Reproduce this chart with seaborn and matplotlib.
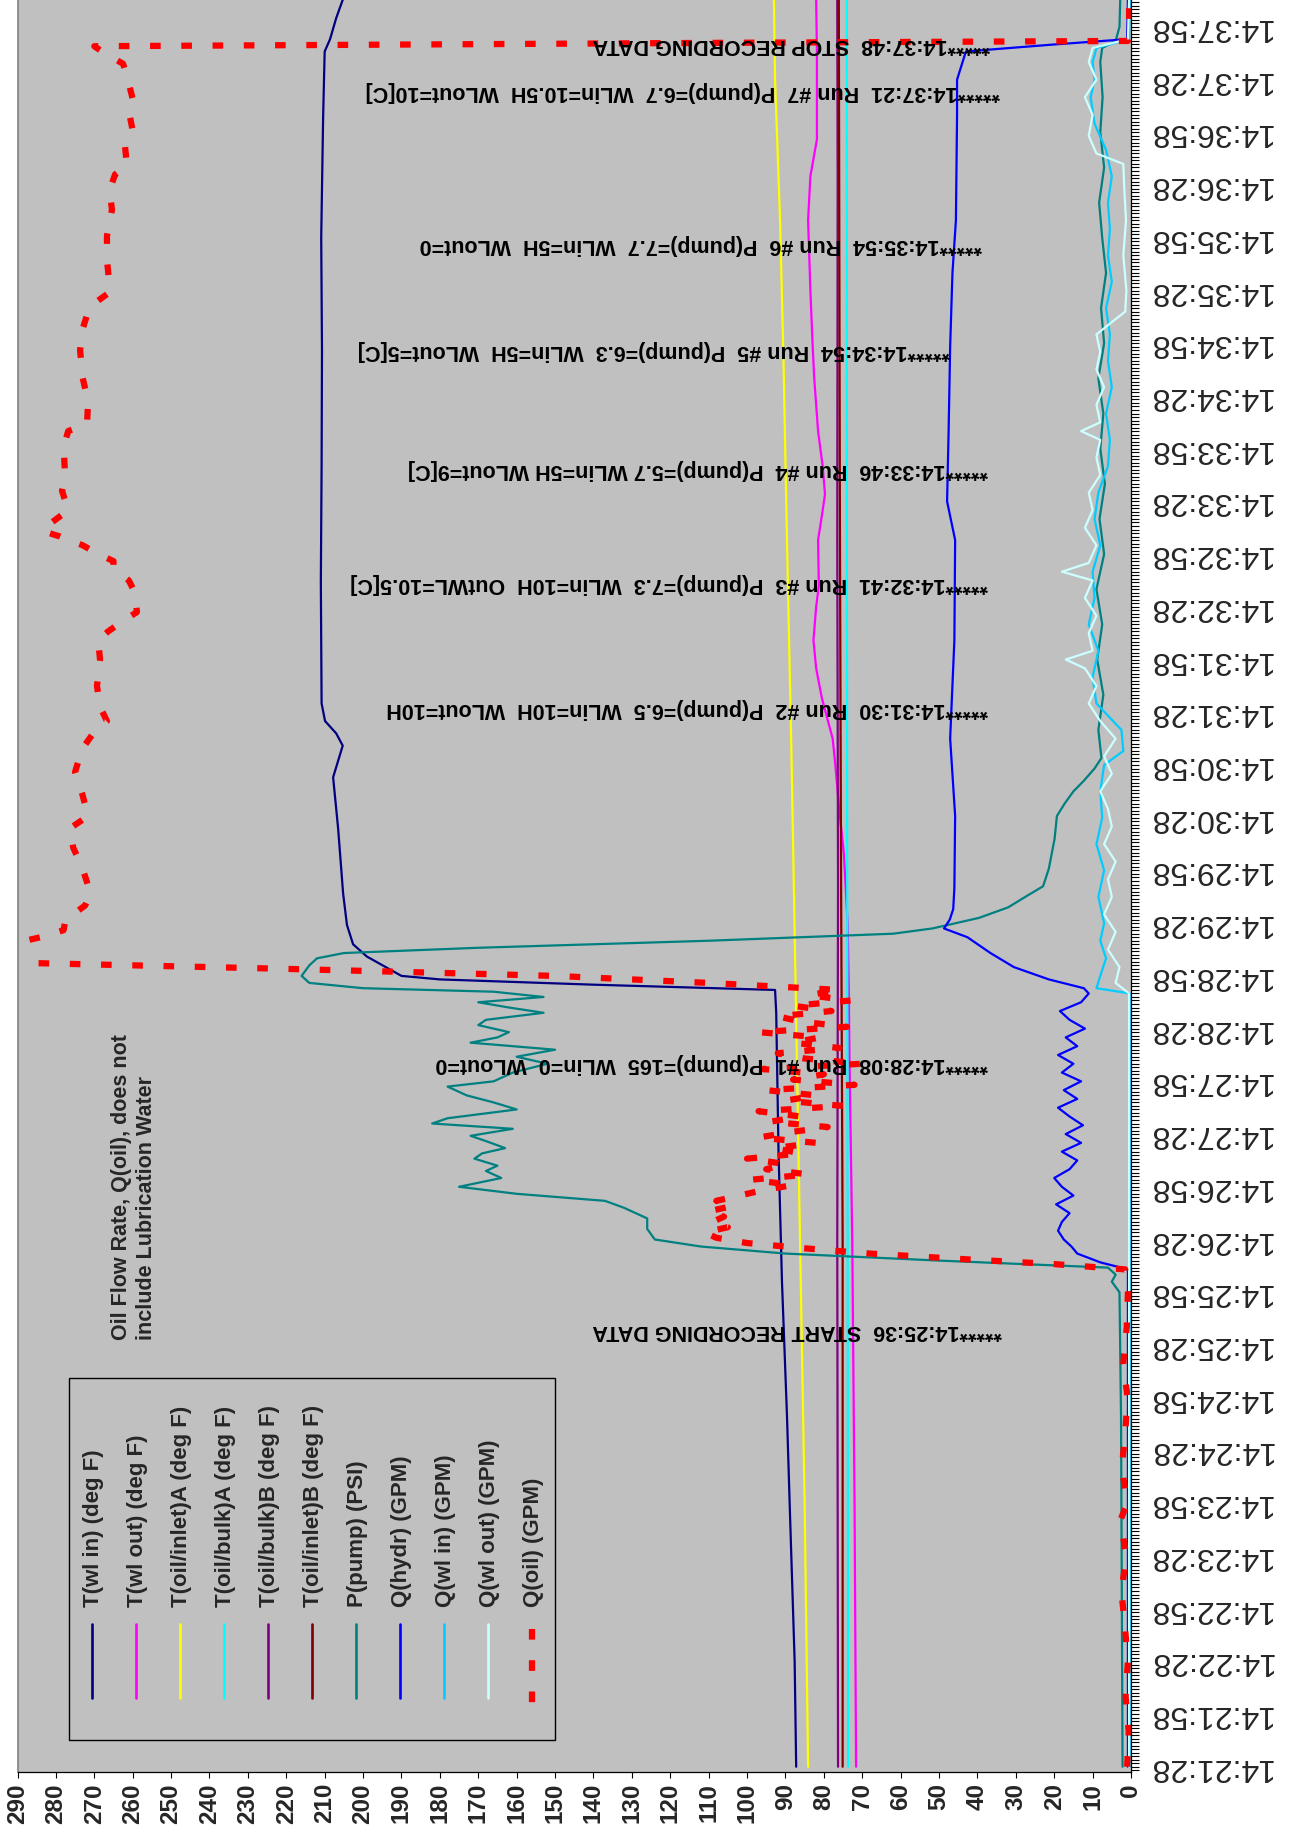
import matplotlib
matplotlib.use("Agg")
import matplotlib.pyplot as plt
from matplotlib.lines import Line2D
from matplotlib.patches import Rectangle
from matplotlib.ticker import FixedLocator, MultipleLocator
import seaborn as sns

sns.set_theme(style="white")
plt.rcParams["font.family"] = ["Liberation Sans", "DejaVu Sans"]

# ---------------- data (time in seconds after 14:21:28) ----------------
time_labels = ["14:21:28", "14:21:58", "14:22:28", "14:22:58", "14:23:28", "14:23:58",
               "14:24:28", "14:24:58", "14:25:28", "14:25:58", "14:26:28", "14:26:58",
               "14:27:28", "14:27:58", "14:28:28", "14:28:58", "14:29:28", "14:29:58",
               "14:30:28", "14:30:58", "14:31:28", "14:31:58", "14:32:28", "14:32:58",
               "14:33:28", "14:33:58", "14:34:28", "14:34:58", "14:35:28", "14:35:58",
               "14:36:28", "14:36:58", "14:37:28", "14:37:58"]
value_ticks = list(range(0, 291, 10))

twlin_t = [0, 60, 143, 200, 276, 350, 429, 442, 445, 448, 450, 461, 468, 479, 497, 534,
           563, 581, 588, 595, 605, 674, 740, 806, 870, 939, 976, 983, 995, 1006]
twlin_v = [87.2, 87.6, 88.8, 89.6, 90.9, 91.8, 92.4, 92.7, 140, 180, 190, 199, 202.6, 204.2,
           205.2, 206.5, 207.8, 205.3, 207, 209.9, 210.8, 211, 210.8, 210.7, 210.9, 210.4,
           210, 208.6, 207, 205.2]

twlout_t = [0, 150, 300, 400, 442, 480, 520, 545, 570, 585, 608, 625, 641, 660, 672, 698,
            712, 724, 740, 760, 790, 808, 840, 880, 905, 926, 976, 1006]
twlout_v = [71.6, 72, 72.6, 73.3, 73.5, 73.8, 74.8, 76, 77, 77.7, 80.5, 82, 82.7, 82, 81.3,
            81.5, 80.5, 79.7, 80.3, 81.5, 82.5, 82.9, 83.5, 84.1, 83.5, 81.8, 81.8, 82]

toilinA_t = [0, 150, 300, 400, 500, 584, 698, 800, 880, 960, 1006]
toilinA_v = [84.1, 85, 86.2, 87, 87.8, 88.5, 89.6, 90.5, 91.4, 92.7, 93]

toilbulkA_t = [0, 300, 500, 700, 900, 1006]
toilbulkA_v = [73.7, 73.8, 73.9, 74, 74, 74]

toilbulkB_t = [0, 300, 500, 700, 900, 1006]
toilbulkB_v = [76.3, 76.5, 76.3, 76.5, 76.4, 76.5]

toilinB_t = [0, 300, 500, 700, 900, 1006]
toilinB_v = [75.1, 75.1, 75.5, 75.8, 76, 76.1]

ppump_t = [0, 100, 200, 270, 276, 280, 284, 288, 292, 296, 300, 306, 312, 318, 322, 326,
           330, 335, 339, 342, 346, 349, 352, 356, 359, 363, 366, 369, 374, 378, 382, 387,
           390, 395, 400, 404, 408, 412, 415, 418, 422, 425, 429, 432, 435, 438, 441, 443,
           446, 450, 456, 460, 463, 466, 470, 474, 477, 483, 489, 495, 501, 511, 528, 541,
           548, 555, 561, 568, 574, 590, 610, 630, 650, 670, 690, 710, 730, 750, 770, 790,
           810, 830, 850, 870, 890, 910, 930, 950, 970, 978, 982, 990, 1006]
ppump_v = [2.2, 2.4, 2.6, 3, 5, 4, 6, 50, 90, 112, 124, 126, 126, 132, 137, 160,
           175, 164, 168, 165, 171, 169, 163, 168, 172, 161, 182, 178, 160, 166, 173, 178,
           166, 161, 152, 160, 150, 172, 165, 162, 170, 168, 153, 162, 170, 153, 166, 200,
           214, 216, 214, 212, 205, 170, 110, 62, 51.7, 39.6, 32, 27.5, 22.9, 21.4, 19.9, 19.3,
           17.3, 15, 12.3, 9.5, 7.7, 8.5, 7.2, 8.8, 7.5, 9, 7, 8.2, 6.8, 8, 7.2, 8.5,
           7, 7.8, 6.5, 7.5, 8.3, 7, 8, 7.4, 8, 7.5, 4, 3, 2.8]

qhydr_t = [0, 283, 287, 292, 296, 300, 305, 310, 315, 320, 325, 330, 335, 340, 345, 350,
           355, 360, 365, 370, 375, 380, 385, 390, 395, 400, 405, 410, 415, 420, 425, 430,
           435, 440, 443, 448, 455, 463, 472, 477, 482, 488, 500, 541, 585, 641, 698, 720,
           760, 808, 850, 880, 940, 960, 976, 980, 983, 1006]
qhydr_v = [0.8, 0.8, 8, 14, 15.5, 17.5, 19, 18, 16, 19.5, 15, 18, 20, 16, 14, 18,
           13, 17, 12.5, 16, 19, 14, 17.5, 13, 18, 15, 19, 14, 17, 12, 16, 18.5,
           13, 11, 12.3, 21.4, 30.5, 36.6, 42.6, 48.7, 47.2, 46.3, 46, 45.8, 47.1, 46, 45.8, 47.9,
           47.5, 47.1, 46.5, 45.6, 45.3, 45.3, 43, 20, 1, 0.8]

qwlin_t = [0, 440, 443, 450, 460, 470, 480, 495, 510, 525, 540, 555, 570, 578, 590, 605,
           620, 635, 650, 665, 680, 695, 710, 725, 740, 755, 770, 785, 800, 815, 830, 845,
           860, 875, 890, 905, 920, 935, 950, 960, 970, 978, 983, 1006]
qwlin_v = [0.3, 0.3, 9, 8, 6.5, 8, 7, 8.5, 7, 9, 7.5, 8, 7, 2, 2.5, 9,
           10, 8.5, 11, 9.5, 10, 8, 9.5, 8.5, 6, 5.5, 6.5, 5, 6, 5.5, 6.5, 5,
           6, 5.5, 6, 5, 6.5, 9.5, 10.5, 9.5, 10, 9, 0.5, 0.3]

qwlout_t = [0, 440, 446, 455, 465, 475, 485, 495, 505, 515, 525, 535, 545, 555, 565, 575,
            585, 595, 605, 615, 625, 630, 635, 645, 655, 665, 675, 680, 685, 695, 705, 715,
            725, 735, 745, 755, 760, 765, 775, 785, 795, 805, 815, 822, 828, 840, 860, 880,
            900, 912, 918, 928, 940, 950, 960, 970, 978, 983, 1006]
qwlout_v = [0.5, 0.5, 4, 3, 6, 4, 7, 5, 6, 4, 7, 5, 6, 8, 5, 7,
            4, 8, 11, 9, 12, 17, 10, 11, 9, 12, 10, 18, 11, 9, 12, 10,
            11, 8, 9, 8, 13, 8, 9, 7, 9, 8, 9, 5, 1.5, 1.2, 2, 1.3,
            1.8, 2, 9, 11, 10, 12, 9, 11, 10, 0.8, 0.5]

qoil_t = [0, 20, 40, 60, 80, 100, 120, 140, 150, 170, 190, 210, 230, 250, 270, 283,
          286, 289, 292, 295, 298, 301, 304, 307, 310, 313, 316, 319, 322, 325, 328, 331,
          334, 337, 340, 343, 346, 349, 352, 355, 358, 361, 364, 367, 370, 373, 376, 379,
          382, 385, 388, 391, 394, 397, 400, 403, 406, 409, 412, 415, 418, 421, 424, 427,
          430, 433, 436, 439, 442, 446, 450, 454, 458, 464, 468, 472, 476, 482, 490, 497,
          504, 512, 523, 534, 541, 554, 566, 579, 588, 595, 603, 615, 630, 641, 646, 652,
          657, 668, 675, 682, 686, 691, 695, 700, 703, 706, 715, 726, 735, 751, 760, 764,
          777, 790, 806, 817, 828, 833, 839, 851, 857, 871, 886, 897, 906, 911, 922, 931,
          942, 949, 962, 969, 976, 979, 981, 982, 990, 1006]
qoil_v = [1.0, 0.6, 1.4, 0.8, 1.6, 2.5, 1.2, 2.8, 1.0, 2.4, 1.5, 0.9, 2.0, 1.1, 0.8, 1.5,
          20, 45, 68, 85, 100, 108, 111, 105, 109, 106, 110, 104, 108, 102, 96, 88,
          99, 84, 95, 90, 100, 86, 93, 82, 97, 89, 79, 94, 86, 97, 75, 90,
          82, 95, 72, 88, 80, 96, 70, 85, 92, 76, 88, 81, 97, 74, 86, 92,
          78, 88, 73, 84, 76, 110, 150, 220, 300, 300, 292, 284, 278, 277.5, 272.4, 271,
          272, 273.2, 275.5, 276.3, 271.6, 273.2, 275, 273.2, 270.3, 266.7, 268.5, 269.3, 268.5, 269, 266.4, 262.5,
          258.9, 259.4, 261, 265, 265, 269.8, 273, 278.9, 283.3, 282.3, 276.8, 278.4, 277.6, 278, 276.8, 271.9,
          271.6, 273, 273.7, 273.2, 271.6, 269.8, 266, 266.4, 266.7, 266.7, 265.4, 266, 264.6, 261.5, 262, 260,
          261, 260, 261.5, 262.5, 268, 270, 100, 0.8, 0.5, 0.5]

series = [
    ("T(wl in) (deg F)", twlin_t, twlin_v, "#000080"),
    ("T(wl out) (deg F)", twlout_t, twlout_v, "#FF00FF"),
    ("T(oil/inlet)A (deg F)", toilinA_t, toilinA_v, "#FFFF00"),
    ("T(oil/bulk)A (deg F)", toilbulkA_t, toilbulkA_v, "#00FFFF"),
    ("T(oil/bulk)B (deg F)", toilbulkB_t, toilbulkB_v, "#800080"),
    ("T(oil/inlet)B (deg F)", toilinB_t, toilinB_v, "#800000"),
    ("P(pump) (PSI)", ppump_t, ppump_v, "#008080"),
    ("Q(hydr) (GPM)", qhydr_t, qhydr_v, "#0000FF"),
    ("Q(wl in) (GPM)", qwlin_t, qwlin_v, "#00CCFF"),
    ("Q(wl out) (GPM)", qwlout_t, qwlout_v, "#CCFFFF"),
    ("Q(oil) (GPM)", qoil_t, qoil_v, "#FF0000"),
]

event_times = [248, 400, 602, 673, 738, 806, 866, 953, 980]
event_pos = [33.6, 37.2, 37.2, 37.2, 37.2, 47.2, 38.7, 34.1, 36.6]
event_text = [
    "*****14:25:36  START RECORDING DATA",
    "*****14:28:08  Run #1  P(pump)=165  WLin=0  WLout=0",
    "*****14:31:30  Run #2  P(pump)=6.5  WLin=10H  WLout=10H",
    "*****14:32:41  Run #3  P(pump)=7.3  WLin=10H  OutWL=10.5[C]",
    "*****14:33:46  Run #4  P(pump)=5.7 WLin=5H WLout=9[C]",
    "*****14:34:54  Run #5  P(pump)=6.3  WLin=5H  WLout=5[C]",
    "*****14:35:54  Run #6  P(pump)=7.7  WLin=5H  WLout=0",
    "*****14:37:21  Run #7  P(pump)=6.7  WLin=10.5H  WLout=10[C]",
    "*****14:37:48  STOP RECORDING DATA",
]

note_text = "Oil Flow Rate, Q(oil), does not\ninclude Lubrication Water"

# ---------------- figure ----------------
W, H = 1290, 1828
fig = plt.figure(figsize=(W / 100, H / 100), dpi=100, facecolor="white")


def fx(px):
    return px / W


def fy(py):
    return 1 - py / H


ax = fig.add_axes([fx(17.5), fy(1772), fx(1131) - fx(17.5), fy(0) - fy(1772)])
ax.set_facecolor("#C0C0C0")

red_dash = (0, (1.7, 3.3))
for name, ts, vs, color in series:
    if name.startswith("Q(oil)"):
        sns.lineplot(x=vs, y=ts, sort=False, estimator=None, color=color, lw=4.5,
                     linestyle=red_dash, ax=ax)
        ax.lines[-1].set_dash_capstyle("butt")
    else:
        sns.lineplot(x=vs, y=ts, sort=False, estimator=None, color=color, lw=1.6, ax=ax)

ax.set_xlim(290, 0)
ax.set_ylim(-3, 1005.3)
ax.set_xlabel("")
ax.set_ylabel("")


def to_sec(s):
    h, m, sec = (int(p) for p in s.split(":"))
    return h * 3600 + m * 60 + sec


t0 = to_sec(time_labels[0])
time_pos = [to_sec(s) - t0 for s in time_labels]

ax.xaxis.set_major_locator(FixedLocator(value_ticks))
ax.set_xticklabels([str(v) for v in value_ticks], rotation=90,
                   fontweight="bold", fontsize=17.5)
ax.yaxis.tick_right()
ax.yaxis.set_major_locator(FixedLocator(time_pos))
ax.set_yticklabels(time_labels, rotation=180, fontsize=23)
for lbl in ax.get_yticklabels():
    lbl.set_va("center")
ax.yaxis.set_minor_locator(MultipleLocator(2))
ax.tick_params(axis="y", which="both", direction="out", length=6, width=0.8,
               color="black", pad=6, right=True, left=False)
ax.tick_params(axis="x", which="major", direction="out", length=4, width=0.8,
               color="black", pad=4, bottom=True, top=False)
ax.grid(False)

ax.spines["top"].set_visible(False)
ax.spines["left"].set_color("#808080")
ax.spines["left"].set_linewidth(1.2)
ax.spines["right"].set_color("black")
ax.spines["bottom"].set_color("black")
ax.spines["right"].set_linewidth(0.9)
ax.spines["bottom"].set_linewidth(0.9)

# run annotations
for tv, xv, s in zip(event_times, event_pos, event_text):
    ax.text(xv, tv, s, rotation=180, rotation_mode="anchor", ha="left", va="center",
            fontsize=15.5, fontweight="bold", color="black")

# note
fig.text(fx(134), fy(1340), note_text, rotation=90, ha="center", va="bottom",
         fontsize=15.5, fontweight="bold", linespacing=1.3, multialignment="left")

# legend box, drawn column-wise
box = Rectangle((fx(69), fy(1740)), fx(555) - fx(69), fy(1378) - fy(1740),
                transform=fig.transFigure, facecolor="#C0C0C0", edgecolor="black", lw=1)
fig.add_artist(box)
leg_x0, leg_dx = 91.7, 44.0
for i, (name, ts, vs, color) in enumerate(series):
    x = leg_x0 + i * leg_dx
    if name.startswith("Q(oil)"):
        ln = Line2D([fx(x), fx(x)], [fy(1629), fy(1704)], transform=fig.transFigure,
                    color=color, lw=4.5, linestyle=red_dash, dash_capstyle="butt")
    else:
        ln = Line2D([fx(x), fx(x)], [fy(1624), fy(1698)], transform=fig.transFigure,
                    color=color, lw=1.9)
    fig.add_artist(ln)
    fig.text(fx(x + 1.5), fy(1607), name, rotation=90, rotation_mode="anchor",
             ha="left", va="center", fontsize=16, fontweight="bold")

fig.savefig("out.png", dpi=100, facecolor="white")
